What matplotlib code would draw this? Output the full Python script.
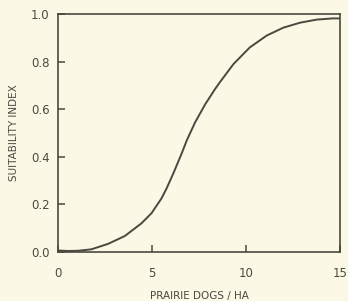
import matplotlib
matplotlib.use("Agg")
import matplotlib.pyplot as plt

# curve
dogs_per_ha = [0, 0.53, 1.06, 1.77, 2.66, 3.55, 4.43, 4.97, 5.5, 5.76, 6.13,
               6.58, 6.84, 7.29, 7.82, 8.35, 8.62, 9.33, 10.2, 11.1, 11.98,
               12.87, 13.76, 14.6, 15.0]
suitability = [0.006, 0.004, 0.005, 0.011, 0.034, 0.067, 0.12, 0.163, 0.225,
               0.265, 0.33, 0.415, 0.468, 0.545, 0.62, 0.685, 0.715, 0.79,
               0.86, 0.91, 0.943, 0.964, 0.977, 0.982, 0.982]
x_ticks = [0, 5, 10, 15]
y_ticks = [0.0, 0.2, 0.4, 0.6, 0.8, 1.0]

bg = "#fcf8e6"
ink = "#4a4940"

fig = plt.figure(figsize=(3.48, 3.01), dpi=100, facecolor=bg)
ax = fig.add_axes([0.167, 0.163, 0.81, 0.79])
ax.set_facecolor(bg)

ax.plot(dogs_per_ha, suitability, color=ink, lw=1.4, solid_joinstyle="round")

ax.set_xlim(0, 15)
ax.set_ylim(0, 1)
ax.set_xticks(x_ticks)
ax.set_xticklabels([str(t) for t in x_ticks])
ax.set_yticks(y_ticks)
ax.set_yticklabels([f"{t:.1f}" for t in y_ticks])

for s in ax.spines.values():
    s.set_color(ink)
    s.set_linewidth(1.2)

ax.tick_params(direction="in", length=5, width=1.1, colors=ink, labelsize=8.5)
ax.tick_params(axis="x", pad=11)
ax.tick_params(axis="y", pad=6)

ax.set_xlabel("PRAIRIE DOGS / HA", fontsize=7.5, color=ink, labelpad=8)
ax.set_ylabel("SUITABILITY INDEX", fontsize=7.5, color=ink, labelpad=9)

fig.savefig("out.png", dpi=100, facecolor=bg)
